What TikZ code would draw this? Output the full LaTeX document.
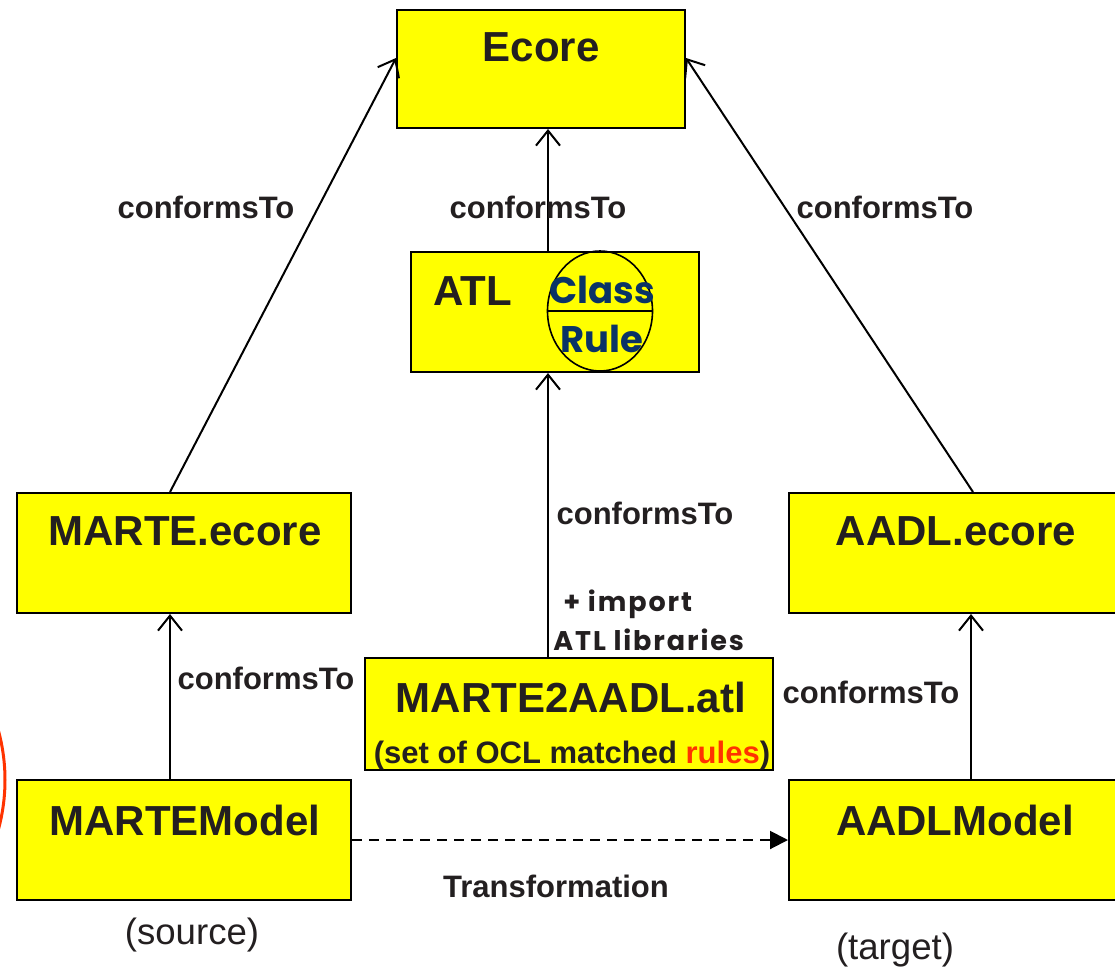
\documentclass[tikz,border=0pt]{standalone}
\usepackage{fontspec}
\setmainfont{Liberation Sans}
\newfontfamily\roundfont[LetterSpace=7]{Poppins}
\newfontfamily\bubblefont{Poppins}
\usetikzlibrary{arrows.meta, positioning, shapes.geometric}
\definecolor{boxyellow}{HTML}{FFFF00}
\definecolor{rulenavy}{HTML}{0A3366}
\definecolor{hotred}{HTML}{FF3300}
\definecolor{inkgray}{HTML}{231F20}

\begin{document}
\begin{tikzpicture}[
    x=0.5pt, y=-0.5pt,
    box/.style={draw, line width=1pt, fill=boxyellow, inner sep=0pt, minimum width=167pt, minimum height=60pt},
    title/.style={font=\bfseries\fontsize{21}{25}\selectfont, text=inkgray},
    conf/.style={font=\bfseries\fontsize{15.5}{18}\selectfont, text=inkgray},
    note/.style={font=\roundfont\bfseries\fontsize{13.5}{16}\selectfont, text=inkgray, anchor=west, inner sep=0pt},
    bubbletext/.style={text=rulenavy, font=\bubblefont\bfseries\fontsize{18.5}{22}\selectfont},
    arrow/.style={-{Straight Barb[length=7.5pt,width=12pt]}, line width=1pt},
    dasharrow/.style={-{Triangle[length=9pt,width=9pt]}, line width=1pt, dash pattern=on 5pt off 3.5pt}
]
    \useasboundingbox (0,0) rectangle (1115,970);
    \clip (0,0) rectangle (1115,970);

    % boxes
    \node[box, minimum width=144pt, minimum height=59pt] (ecore) at (541,69) {};
    \node[box, minimum width=144pt] (atl) at (555,312) {};
    \node[box] (marteecore) at (184,553) {};
    \node[box, minimum width=168pt] (aadlecore) at (957,553) {};
    \node[box, minimum width=204pt, minimum height=56pt] (transfo) at (569,714) {};
    \node[box] (martemodel) at (184,840) {};
    \node[box, minimum width=168pt] (aadlmodel) at (957,840) {};

    % box titles
    \node[title] (ecoretxt) at (541,47) {Ecore};
    \node[title] (atltxt) at (473,291) {ATL};
    \node[title] (marteecoretxt) at (185,531) {MARTE.ecore};
    \node[title] (aadlecoretxt) at (956,531) {AADL.ecore};
    \node[title] (transfotxt) at (571,697) {MARTE2AADL.atl};
    \node[conf] (ruleset) at (572,755) {(set of OCL matched \textcolor{hotred}{rules})};
    \node[title] (martemodeltxt) at (185,820) {MARTEModel};
    \node[title] (aadlmodeltxt) at (955,820) {AADLModel};

    % class / rule bubble
    \node[draw, ellipse, line width=0.8pt, minimum width=52.5pt, minimum height=60pt] (bubble) at (600,311) {};
    \draw[line width=0.8pt] (bubble.west) -- (bubble.east);
    \node[bubbletext] (classtxt) at (602,290) {Class};
    \node[bubbletext] (ruletxt) at (602,339) {Rule};

    % conformance
    \draw[arrow] ([xshift=-7pt]marteecore.north) -- ([yshift=5.5pt]ecore.west);
    \draw[arrow] ([xshift=8pt]aadlecore.north) -- ([yshift=5.5pt]ecore.east);
    \draw[arrow] ([xshift=-3.5pt]atl.north) -- ([xshift=3.5pt]ecore.south);
    \draw[arrow] ([xshift=-10.5pt]transfo.north) -- ([xshift=-3.5pt]atl.south);
    \draw[arrow] ([xshift=-7pt]martemodel.north) -- ([xshift=-7pt]marteecore.south);
    \draw[arrow] ([xshift=7pt]aadlmodel.north) -- ([xshift=7pt]aadlecore.south);
    \draw[dasharrow] (martemodel) -- (aadlmodel);

    \node[conf] (conf1) at (206,207) {conformsTo};
    \node[conf] (conf2) at (538,207) {conformsTo};
    \node[conf] (conf3) at (885,207) {conformsTo};
    \node[conf] (conf4) at (645,513) {conformsTo};
    \node[conf] (conf5) at (266,678) {conformsTo};
    \node[conf] (conf6) at (871,692) {conformsTo};
    \node[note] (imp1) at (563,604) {+ import};
    \node[note] (imp2) at (553,640) {ATL libraries};

    \node[conf] (trans) at (556,886) {Transformation};
    \node[font=\fontsize{18.3}{22}\selectfont, text=inkgray] (src) at (192,935) {(source)};
    \node[font=\fontsize{18.3}{22}\selectfont, text=inkgray] (tgt) at (895,950) {(target)};

    % red mark on the left
    \draw[hotred, line width=1.5pt] (-182,780) circle [radius=93.5pt];
\end{tikzpicture}
\end{document}
